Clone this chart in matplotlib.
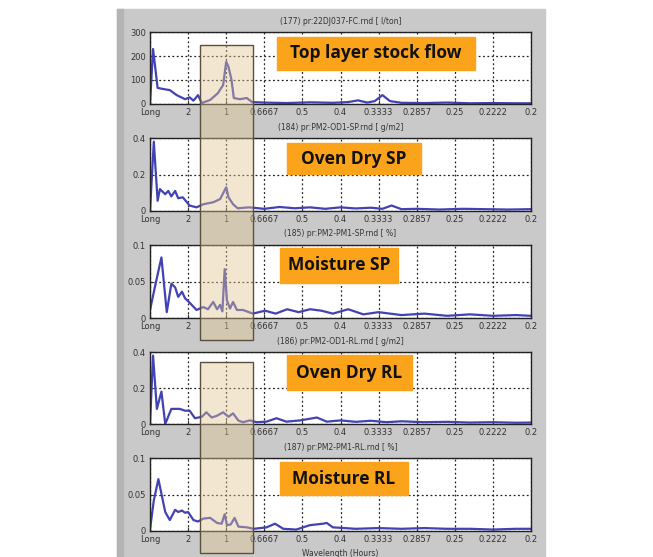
import matplotlib
matplotlib.use("Agg")
import matplotlib.pyplot as plt
from matplotlib.patches import Rectangle

W, H = 653, 557

# x axis: frequency (1/hours), labelled by period
x_ticks = [0, 0.5, 1, 1.5, 2, 2.5, 3, 3.5, 4, 4.5, 5]
x_labels = ["Long", "2", "1", "0.6667", "0.5", "0.4", "0.3333", "0.2857", "0.25", "0.2222", "0.2"]

titles = [
    "(177) pr:22DJ037-FC.rnd [ l/ton]",
    "(184) pr:PM2-OD1-SP.rnd [ g/m2]",
    "(185) pr:PM2-PM1-SP.rnd [ %]",
    "(186) pr:PM2-OD1-RL.rnd [ g/m2]",
    "(187) pr:PM2-PM1-RL.rnd [ %]",
]
names = ["Top layer stock flow", "Oven Dry SP", "Moisture SP", "Oven Dry RL", "Moisture RL"]
y_ticks = [[0, 100, 200, 300], [0, 0.2, 0.4], [0, 0.05, 0.1], [0, 0.2, 0.4], [0, 0.05, 0.1]]
y_labels = [["0", "100", "200", "300"], ["0", "0.2", "0.4"], ["0", "0.05", "0.1"],
            ["0", "0.2", "0.4"], ["0", "0.05", "0.1"]]

# stock flow spectrum
f1 = [0.0, 0.04, 0.1, 0.18, 0.26, 0.35, 0.46, 0.52, 0.57, 0.63, 0.68, 0.79, 0.89, 0.96,
      1.0, 1.03, 1.07, 1.1, 1.18, 1.27, 1.34, 1.5, 1.8, 2.1, 2.4, 2.6, 2.73, 2.85, 2.95,
      3.05, 3.15, 3.3, 3.6, 3.9, 4.2, 4.5, 4.8, 5.0]
v1 = [0, 229, 67, 62, 58, 37, 20, 28, 14, 37, 4, 17, 45, 79,
      176, 155, 100, 25, 20, 25, 8, 6, 4, 7, 5, 8, 15, 6, 12,
      37, 12, 5, 4, 6, 3, 4, 3, 3]

# oven dry SP
f2 = [0.0, 0.05, 0.1, 0.13, 0.2, 0.24, 0.28, 0.33, 0.37, 0.43, 0.52, 0.61, 0.7, 0.83, 0.92,
      1.0, 1.03, 1.09, 1.15, 1.3, 1.5, 1.7, 1.9, 2.1, 2.3, 2.5, 2.7, 2.9, 3.05, 3.17, 3.3,
      3.5, 3.8, 4.1, 4.4, 4.7, 5.0]
v2 = [0.0, 0.38, 0.056, 0.12, 0.092, 0.11, 0.08, 0.11, 0.07, 0.075, 0.03, 0.02, 0.037, 0.048, 0.065,
      0.13, 0.075, 0.037, 0.015, 0.02, 0.012, 0.022, 0.015, 0.02, 0.012, 0.02, 0.014, 0.018, 0.012, 0.03, 0.01,
      0.012, 0.008, 0.012, 0.01, 0.008, 0.01]

# moisture SP
f3 = [0.0, 0.08, 0.15, 0.22, 0.28, 0.33, 0.37, 0.42, 0.46, 0.52, 0.61, 0.7, 0.76, 0.83, 0.88,
      0.92, 0.95, 0.98, 1.01, 1.05, 1.09, 1.14, 1.22, 1.35, 1.51, 1.65, 1.8, 1.95, 2.1, 2.25,
      2.4, 2.6, 2.8, 3.0, 3.3, 3.6, 3.9, 4.2, 4.5, 4.8, 5.0]
v3 = [0.011, 0.05, 0.083, 0.008, 0.047, 0.042, 0.029, 0.036, 0.027, 0.021, 0.011, 0.015, 0.012, 0.022, 0.012,
      0.018, 0.009, 0.067, 0.024, 0.013, 0.022, 0.011, 0.011, 0.006, 0.01, 0.006, 0.012, 0.008, 0.012, 0.01,
      0.006, 0.012, 0.005, 0.008, 0.004, 0.006, 0.003, 0.005, 0.003, 0.004, 0.003]

# oven dry RL
f4 = [0.0, 0.04, 0.09, 0.15, 0.2, 0.28, 0.39, 0.46, 0.52, 0.59, 0.68, 0.74, 0.81, 0.88, 0.96,
      1.03, 1.09, 1.16, 1.22, 1.31, 1.4, 1.53, 1.66, 1.79, 1.97, 2.19, 2.32, 2.5, 2.7, 2.9,
      3.1, 3.3, 3.6, 3.9, 4.2, 4.5, 4.8, 5.0]
v4 = [0.0, 0.38, 0.084, 0.18, 0.0, 0.084, 0.084, 0.074, 0.074, 0.032, 0.04, 0.065, 0.036, 0.046, 0.065,
      0.04, 0.059, 0.019, 0.01, 0.02, 0.01, 0.013, 0.032, 0.013, 0.02, 0.036, 0.013, 0.02, 0.012, 0.018,
      0.01, 0.015, 0.01, 0.012, 0.008, 0.01, 0.007, 0.008]

# moisture RL
f5 = [0.0, 0.05, 0.11, 0.15, 0.2, 0.26, 0.33, 0.37, 0.42, 0.46, 0.5, 0.57, 0.63, 0.7, 0.79,
      0.88, 0.94, 0.98, 1.01, 1.06, 1.11, 1.16, 1.27, 1.36, 1.53, 1.64, 1.75, 1.92, 2.1, 2.27,
      2.32, 2.4, 2.7, 3.0, 3.3, 3.6, 3.9, 4.2, 4.5, 4.8, 5.0]
v5 = [0.002, 0.042, 0.071, 0.051, 0.026, 0.015, 0.029, 0.026, 0.028, 0.025, 0.026, 0.015, 0.013, 0.017, 0.018,
      0.011, 0.01, 0.023, 0.008, 0.009, 0.018, 0.006, 0.005, 0.003, 0.005, 0.01, 0.003, 0.002, 0.008, 0.01,
      0.011, 0.005, 0.003, 0.004, 0.003, 0.004, 0.003, 0.003, 0.002, 0.003, 0.003]

freqs = [f1, f2, f3, f4, f5]
values = [v1, v2, v3, v4, v5]


def px(x0, y0, x1, y1):
    """pixel box (top-left origin) -> figure fraction rect"""
    return [x0 / W, 1 - y1 / H, (x1 - x0) / W, (y1 - y0) / H]


def add_rect(fig, box, **kw):
    r = px(*box)
    fig.patches.append(Rectangle(r[:2], r[2], r[3], transform=fig.transFigure, **kw))


fig = plt.figure(figsize=(W / 100, H / 100), dpi=100)
fig.patch.set_facecolor("white")

# grey window background
add_rect(fig, (117, 9, 545, 557), color="#c9c9c9", zorder=-10)
add_rect(fig, (117, 9, 123, 557), color="#b4b4b4", zorder=-9)

axes_px = [(150, 32, 531, 104), (150, 138, 531, 211), (150, 245, 531, 318),
           (150, 352, 531, 424), (150, 458, 531, 531)]
label_px = [(277, 37, 475, 70), (287, 143, 421, 174), (280, 248, 398, 283),
            (287, 355, 412, 390), (280, 462, 408, 495)]

for i in range(5):
    ax = fig.add_axes(px(*axes_px[i]))
    ax.plot(freqs[i], values[i], color="#4242b4", lw=1.6)
    ax.set_xlim(0, 5)
    ax.set_ylim(y_ticks[i][0], y_ticks[i][-1])
    ax.set_xticks(x_ticks)
    ax.set_xticklabels(x_labels)
    ax.set_yticks(y_ticks[i])
    ax.set_yticklabels(y_labels[i])
    ax.tick_params(direction="in", length=3, labelsize=6, colors="#333333", pad=3)
    ax.grid(True, color="#222222", linestyle=(0, (1.5, 2)), lw=0.9)
    for s in ax.spines.values():
        s.set_color("#222222")
        s.set_linewidth(1.0)
    x0, y0, x1, y1 = axes_px[i]
    fig.text((x0 + x1) / 2 / W, 1 - (y0 - 11) / H, titles[i], fontsize=5.5,
             color="#333333", ha="center", va="center")

    # orange name box
    lx0, ly0, lx1, ly1 = label_px[i]
    add_rect(fig, label_px[i], color="#fba31a", zorder=5)
    fig.text((lx0 + lx1) / 2 / W, 1 - (ly0 + ly1) / 2 / H, names[i], fontsize=12.5,
             fontweight="bold", family="Open Sans", color="#111111",
             ha="center", va="center", zorder=6)

# highlighted 1-hour band
for y0, y1 in [(45, 340), (362, 553)]:
    add_rect(fig, (200, y0, 253, y1), facecolor="#e0c58f", alpha=0.42,
             edgecolor="none", zorder=3)
    add_rect(fig, (200, y0, 253, y1), facecolor="none", edgecolor="#5a5040",
             lw=1.0, zorder=4)

fig.text(340 / W, 1 - 554 / H, "Wavelength (Hours)", fontsize=5.5, color="#333333",
         ha="center", va="center")

fig.savefig("out.png", dpi=100)
